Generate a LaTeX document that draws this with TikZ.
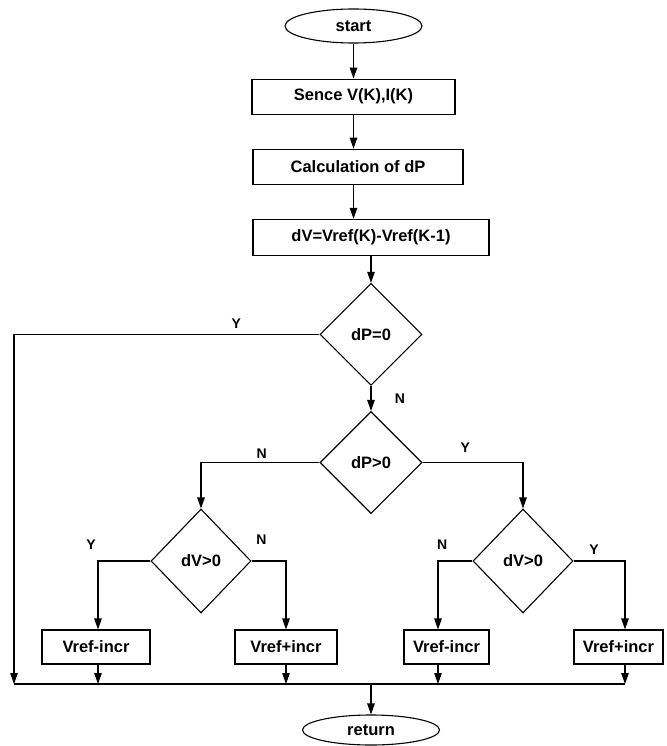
\documentclass[tikz,border=0pt]{standalone}
\usepackage{fontspec}
\setmainfont{Liberation Sans}
\usepackage{tikz}
\usetikzlibrary{positioning, shapes.geometric, arrows.meta}

\begin{document}
\begin{tikzpicture}[
	x=1pt, y=1pt,
	% Estilo para los terminales (inicio y retorno)
	termbox/.style={
		draw,
		ellipse,
		line width=1.1pt,
		minimum width=137pt,
		minimum height=34pt,
		inner sep=0pt,
		font=\fontsize{16.5}{19}\selectfont\bfseries
	},
	% Estilo para las cajas de proceso
	procbox/.style={
		draw,
		rectangle,
		line width=1.1pt,
		minimum height=35pt,
		inner sep=0pt,
		font=\fontsize{16.5}{19}\selectfont\bfseries
	},
	% Estilo para los rombos de decision
	decbox/.style={
		draw,
		diamond,
		line width=1.1pt,
		minimum width=102pt,
		minimum height=102pt,
		inner sep=0pt,
		font=\fontsize{16.5}{19}\selectfont\bfseries
	},
	% Estilo para las flechas y lineas
	flow/.style={
		line width=1.1pt,
		-{Triangle[length=11pt, width=7.5pt]}
	},
	wire/.style={
		line width=1.1pt
	},
	% Estilo para las etiquetas Y/N
	branchlabel/.style={
		font=\fontsize{14}{16}\selectfont\bfseries
	}
	]
	\useasboundingbox (0,0) rectangle (666,-746);
	
	% --- Columna principal ---
	\node[termbox] (start) at (353.5,-26) {start};
	\node[procbox, minimum width=203pt, below=35pt of start] (sence) {Sence V(K),I(K)};
	\node[procbox, minimum width=210pt, below=34pt of sence, xshift=4.5pt] (calc) {Calculation of dP};
	\node[procbox, minimum width=236pt, minimum height=36pt, below=34pt of calc, xshift=13pt] (dv) {dV=Vref(K)-Vref(K-1)};
	
	% --- Decisiones ---
	\node[decbox, below=27pt of dv] (dpzero) {dP=0};
	\node[decbox, below=25pt of dpzero] (dppos) {dP>0};
	\node[decbox, minimum width=100pt, minimum height=104pt] (dvl) at (201,-561) {dV>0};
	\node[decbox, minimum width=100pt, minimum height=104pt] (dvr) at (523,-561) {dV>0};
	
	% --- Acciones sobre Vref ---
	\node[procbox, minimum width=108pt, minimum height=34pt] (decA) at (96,-647) {Vref-incr};
	\node[procbox, minimum width=102pt, minimum height=34pt] (incA) at (286,-647) {Vref+incr};
	\node[procbox, minimum width=85pt, minimum height=34pt] (decB) at (446.5,-647) {Vref-incr};
	\node[procbox, minimum width=89pt, minimum height=34pt] (incB) at (618.5,-647) {Vref+incr};
	
	\node[termbox, minimum height=30pt] (ret) at (371,-730) {return};
	
	% Puntos sobre la linea colectora
	\coordinate (busL) at (14,-684);
	\coordinate (busA) at (98,-684);
	\coordinate (busB) at (286,-684);
	\coordinate (busC) at (438,-684);
	\coordinate (busR) at (625,-684);
	
	% --- Conexiones ---
	\draw[flow] (start) -- (sence);
	\draw[flow] (sence.south) -- (sence.south |- calc.north);
	\draw[flow] (sence.south |- calc.south) -- (sence.south |- dv.north);
	\draw[flow] (dv) -- (dpzero);
	\draw[flow] (dpzero) -- (dppos)
	node[branchlabel, midway, right=20pt] {N};
	
	\draw[flow] (dpzero.west) -| (busL)
	node[branchlabel, pos=0.136, above=2pt] {Y};
	\draw[flow] (dppos.west) -| (dvl.north)
	node[branchlabel, pos=0.244, above=0pt] {N};
	\draw[flow] (dppos.east) -| (dvr.north)
	node[branchlabel, pos=0.213, above=6pt] {Y};
	
	\draw[flow] (dvl.west) -| (busA |- decA.north)
	node[branchlabel, pos=0.5, above=8pt, xshift=-7pt] {Y};
	\draw[flow] (dvl.east) -| (incA.north)
	node[branchlabel, pos=0.143, above=13pt] {N};
	\draw[flow] (dvr.west) -| (busC |- decB.north)
	node[branchlabel, pos=0.44, above=8pt] {N};
	\draw[flow] (dvr.east) -| (busR |- incB.north)
	node[branchlabel, pos=0.2, above=3pt] {Y};
	
	% Salidas hacia la linea colectora
	\draw[flow] (busA |- decA.south) -- (busA);
	\draw[flow] (busB |- incA.south) -- (busB);
	\draw[flow] (busC |- decB.south) -- (busC);
	\draw[flow] (busR |- incB.south) -- (busR);
	\draw[wire] (busL) -- (busR);
	\draw[flow] (ret.north |- busL) -- (ret.north);
	
\end{tikzpicture}
\end{document}
